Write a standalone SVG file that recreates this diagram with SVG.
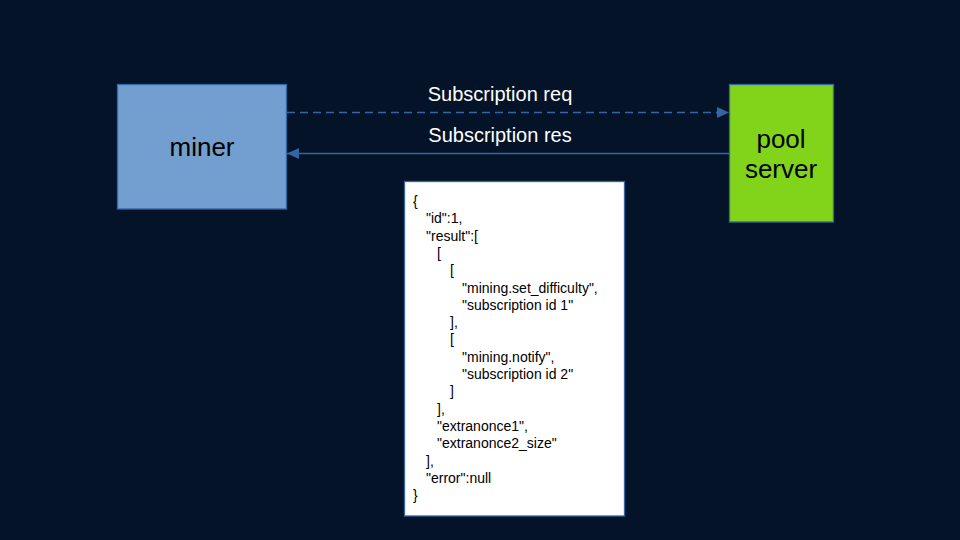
<svg xmlns="http://www.w3.org/2000/svg" width="960" height="540" viewBox="0 0 960 540">
<style>
.node{stroke:#3465a4;stroke-width:1.3}
.lbl{font-family:"Liberation Sans",Arial,sans-serif;font-size:26px;fill:#000;text-anchor:middle}
.edge{font-family:"Liberation Sans",Arial,sans-serif;font-size:20px;fill:#fff;text-anchor:middle}
.json{font-family:"Liberation Sans",Arial,sans-serif;font-size:14px;fill:#000}
.conn{stroke:#3465a4;stroke-width:1.3;fill:none}
</style>
<defs>
<marker id="ah" markerWidth="12" markerHeight="11" refX="12" refY="5.5" orient="auto" markerUnits="userSpaceOnUse">
<path d="M0,0 L12,5.5 L0,11 Z" fill="#3465a4"/>
</marker>
</defs>
<rect width="960" height="540" fill="#041328"/>
<g id="miner">
<rect class="node" x="117.5" y="84.5" width="169" height="124.5" fill="#729fcf"/>
<text class="lbl" x="202" y="156">miner</text>
</g>
<g id="pool-server">
<rect class="node" x="729.5" y="84.5" width="104" height="137.5" fill="#81d41a"/>
<text class="lbl" x="781" y="148">pool</text>
<text class="lbl" x="781" y="178">server</text>
</g>
<g id="connectors">
<line class="conn" x1="287" y1="112.5" x2="729" y2="112.5" stroke-dasharray="8,5" marker-end="url(#ah)"/>
<line class="conn" x1="729" y1="153.5" x2="287" y2="153.5" marker-end="url(#ah)"/>
<text class="edge" x="500" y="101">Subscription req</text>
<text class="edge" x="500" y="142">Subscription res</text>
</g>
<g id="json">
<rect x="404.5" y="181.5" width="220" height="334.5" fill="#fff" stroke="#3465a4" stroke-width="1.3"/>
<text class="json">
<tspan x="413" y="206">{</tspan>
<tspan x="426" y="223.3">"id":1,</tspan>
<tspan x="426" y="240.6">"result":[</tspan>
<tspan x="437" y="257.9">[</tspan>
<tspan x="450" y="275.2">[</tspan>
<tspan x="462" y="292.5">"mining.set_difficulty",</tspan>
<tspan x="462" y="309.8">"subscription id 1"</tspan>
<tspan x="450" y="327.1">],</tspan>
<tspan x="450" y="344.4">[</tspan>
<tspan x="462" y="361.7">"mining.notify",</tspan>
<tspan x="462" y="379">"subscription id 2"</tspan>
<tspan x="450" y="396.3">]</tspan>
<tspan x="437" y="413.6">],</tspan>
<tspan x="437" y="430.9">"extranonce1",</tspan>
<tspan x="437" y="448.2">"extranonce2_size"</tspan>
<tspan x="426" y="465.5">],</tspan>
<tspan x="426" y="482.8">"error":null</tspan>
<tspan x="413" y="500.1">}</tspan>
</text>
</g>
</svg>
